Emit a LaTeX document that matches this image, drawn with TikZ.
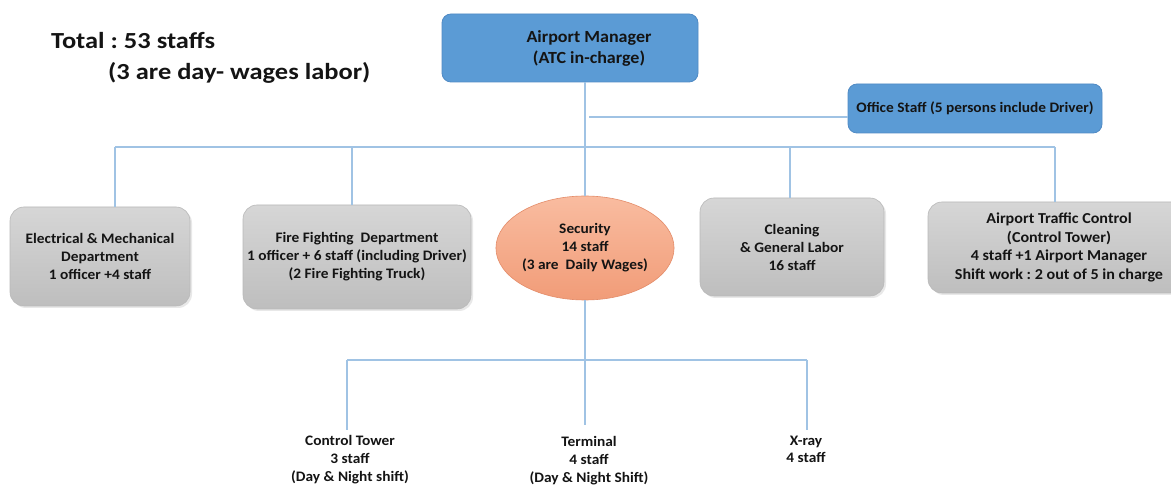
\documentclass[tikz,border=0pt]{standalone}
\usepackage{fontspec}
\setmainfont{Carlito}[FakeStretch=1.06]
\newfontfamily\titlefont{Carlito}[FakeStretch=1.15]
\usetikzlibrary{shapes.geometric,shadows}
\definecolor{conncol}{RGB}{160,195,228}
\definecolor{mgrfill}{RGB}{91,155,213}
\definecolor{mgrdraw}{RGB}{80,138,196}
\definecolor{graytop}{RGB}{214,214,214}
\definecolor{graybot}{RGB}{190,190,190}
\definecolor{graydraw}{RGB}{185,185,185}
\definecolor{sectop}{RGB}{249,188,160}
\definecolor{secbot}{RGB}{241,156,120}
\definecolor{secdraw}{RGB}{228,140,105}
\definecolor{txt}{RGB}{20,20,20}
\tikzset{
  conn/.style={draw=conncol, line width=1.4pt},
  smallfont/.style={font=\fontsize{14.5}{18}\selectfont\bfseries, text=txt},
  graybox/.style={smallfont, draw=graydraw, line width=0.6pt, rounded corners=14pt,
     top color=graytop, bottom color=graybot, align=center, inner sep=0pt,
     drop shadow={opacity=0.18, shadow xshift=2pt, shadow yshift=-2pt}},
  bluebox/.style={draw=mgrdraw, line width=0.8pt, fill=mgrfill, rounded corners=9pt,
     align=center, inner sep=0pt, text=txt},
  secnode/.style={smallfont, ellipse, draw=secdraw, line width=0.6pt,
     top color=sectop, bottom color=secbot, align=center, inner sep=0pt,
     minimum width=152pt, minimum height=104pt},
  leaf/.style={font=\fontsize{14.5}{18}\selectfont\bfseries, text=txt, align=center, inner sep=0pt},
  titletext/.style={font=\titlefont\fontsize{23}{28}\selectfont\bfseries, text=txt, anchor=west, inner sep=0pt}
}
\begin{document}
\frenchspacing
\begin{tikzpicture}[x=1pt,y=-1pt]
\useasboundingbox (0,0) rectangle (1171,486);
\fill[white] (0,0) rectangle (1171,486);

% title
\node[titletext] (total) at (51,41) {Total : 53 staffs};
\node[titletext] (total2) at (108,73) {(3 are day- wages labor)};

% boxes
\node[bluebox, minimum width=256pt, minimum height=68pt] (mgr) at (570,48) {};
\node[font=\fontsize{17}{21}\selectfont\bfseries, text=txt, align=center, inner sep=0pt] (mgrtext) at (589,48.5) {Airport Manager\\(ATC in-charge)};
\node[bluebox, minimum width=254pt, minimum height=49pt, font=\fontsize{14.5}{18}\selectfont\bfseries] (office) at (975,108.5) {Office Staff (5 persons include Driver)};

\node[graybox, minimum width=180pt, minimum height=99pt] (em) at (100,256.5) {Electrical \& Mechanical\\Department\\1 officer +4 staff};
\node[graybox, minimum width=228pt, minimum height=104pt] (fire) at (357,257) {Fire Fighting\ \ Department\\1 officer + 6 staff (including Driver)\\(2 Fire Fighting Truck)};
\node[secnode] (sec) at (585,248) {Security\\14 staff\\(3 are\ \ Daily Wages)};
\node[graybox, minimum width=184pt, minimum height=98pt] (clean) at (792,247) {Cleaning\\\& General Labor\\16 staff};
\node[graybox, minimum width=262pt, minimum height=91pt, font=\fontsize{15.2}{18.7}\selectfont\bfseries] (atc) at (1059,247.5) {Airport Traffic Control\\(Control Tower)\\4 staff +1 Airport Manager\\Shift work : 2 out of 5 in charge};

% leaves
\node[leaf] (ct) at (350,460) {Control Tower\\3 staff\\(Day \& Night shift)};
\node[leaf] (term) at (589,461) {Terminal\\4 staff\\(Day \& Night Shift)};
\node[leaf, font=\fontsize{14.5}{17}\selectfont\bfseries] (xray) at (806,449) {X-ray\\4 staff};

% connectors
\coordinate (busW) at (115,147);
\coordinate (busE) at (1055,147);
\coordinate (offL) at (589,117);
\coordinate (subY) at (0,360);

\draw[conn] (585,0 |- mgr.south) -- (sec.north);
\draw[conn] (offL) -- (office.west |- offL);
\draw[conn] (busW) -- (busE);
\draw[conn] (busW) -- (busW |- em.north);
\draw[conn] (352,147) -- (352,0 |- fire.north);
\draw[conn] (790,147) -- (790,0 |- clean.north);
\draw[conn] (busE) -- (busE |- atc.north);

\draw[conn] (sec.south) -- (sec.south |- subY);
\draw[conn] (347,0 |- subY) -- (807,0 |- subY);
\draw[conn] (347,0 |- subY) -- (347,430);
\draw[conn] (sec.south |- subY) -- (585,425);
\draw[conn] (807,0 |- subY) -- (807,430);
\end{tikzpicture}
\end{document}
